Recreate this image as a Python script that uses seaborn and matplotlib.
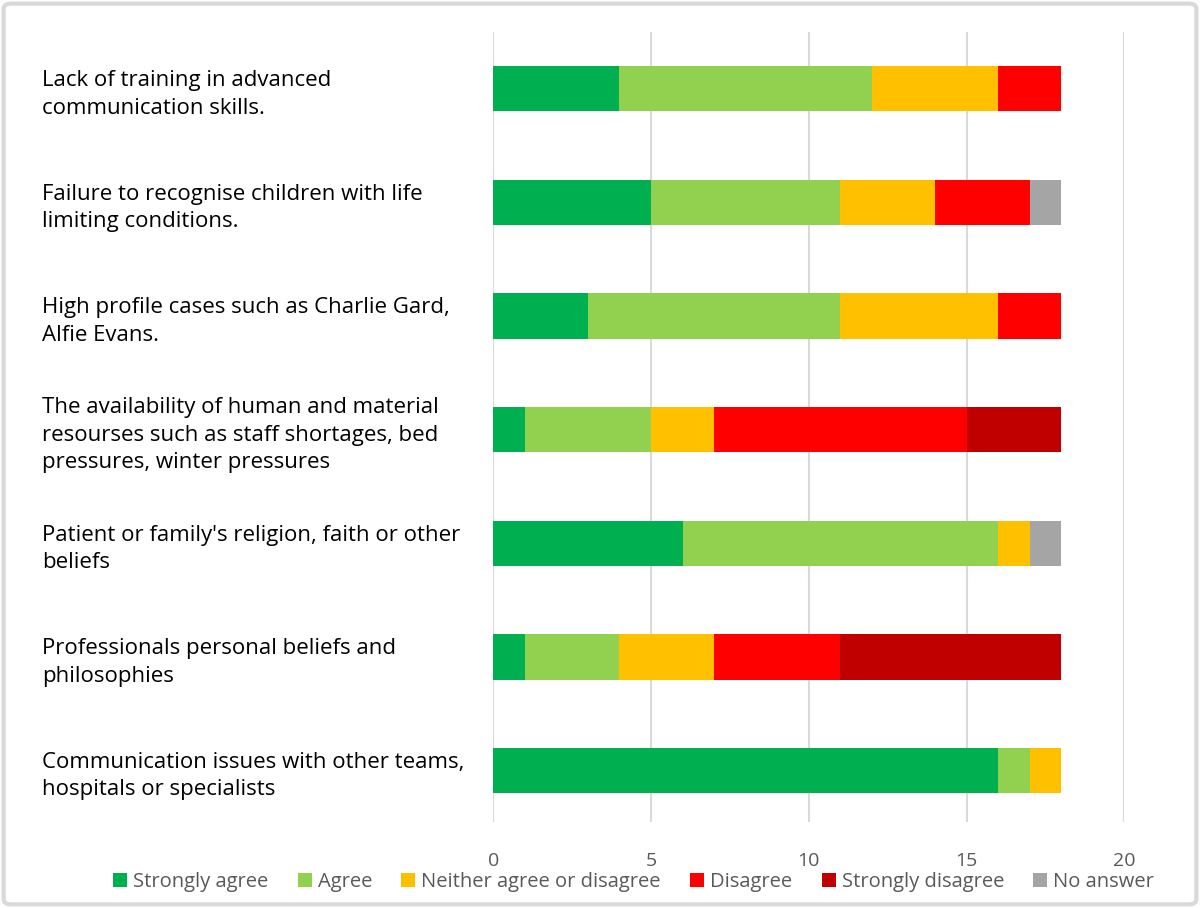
import numpy as np
import pandas as pd
import seaborn as sns
import matplotlib.pyplot as plt
from matplotlib.patches import Patch, FancyBboxPatch

categories = [
    "Lack of training in advanced\ncommunication skills.",
    "Failure to recognise children with life\nlimiting conditions.",
    "High profile cases such as Charlie Gard,\nAlfie Evans.",
    "The availability of human and material\nresourses such as staff shortages, bed\npressures, winter pressures",
    "Patient or family's religion, faith or other\nbeliefs",
    "Professionals personal beliefs and\nphilosophies",
    "Communication issues with other teams,\nhospitals or specialists",
]
strongly_agree = [4, 5, 3, 1, 6, 1, 16]
agree = [8, 6, 8, 4, 10, 3, 1]
neither = [4, 3, 5, 2, 1, 3, 1]
disagree = [2, 3, 2, 8, 0, 4, 0]
strongly_disagree = [0, 0, 0, 3, 0, 7, 0]
no_answer = [0, 1, 0, 0, 1, 0, 0]

series_names = ["Strongly agree", "Agree", "Neither agree or disagree",
                "Disagree", "Strongly disagree", "No answer"]
colors = ["#00B050", "#92D050", "#FFC000", "#FF0000", "#C00000", "#A5A5A5"]

sns.set_style("white")
plt.rcParams["font.family"] = ["Open Sans", "DejaVu Sans"]

values = np.array([strongly_agree, agree, neither, disagree, strongly_disagree, no_answer])
cum = values.cumsum(axis=0)

fig = plt.figure(figsize=(12, 9.08), dpi=100)
ax = fig.add_axes([0.411, 0.095, 0.526, 0.87])

# draw cumulative totals from the last series back to the first so they stack
for i in range(len(series_names) - 1, -1, -1):
    df = pd.DataFrame({"cat": categories, "val": cum[i]})
    sns.barplot(data=df, x="val", y="cat", orient="h", color=colors[i],
                width=0.4, ax=ax, saturation=1, linewidth=0, zorder=3)

ax.set_xlim(0, 20)
ax.set_ylim(6.45, -0.5)
ax.set_xticks([0, 5, 10, 15, 20])
ax.set_xlabel("")
ax.set_ylabel("")
ax.grid(axis="x", color="#D9D9D9", linewidth=1.5, zorder=0)
ax.set_axisbelow(True)
for s in ax.spines.values():
    s.set_visible(False)
ax.tick_params(axis="x", length=0, labelsize=14, labelcolor="#595959", pad=22)
ax.tick_params(axis="y", length=0, labelsize=16, pad=325)
for lbl in ax.get_yticklabels():
    lbl.set_horizontalalignment("left")
    lbl.set_color("#000000")
    lbl.set_linespacing(1.4)

handles = [Patch(facecolor=c, edgecolor="none") for c in colors]
fig.legend(handles, series_names, loc="center", bbox_to_anchor=(0.528, 0.029),
           ncol=6, frameon=False, fontsize=14.5, handlelength=0.7, handleheight=0.7,
           handletextpad=0.3, columnspacing=1.45, labelcolor="#595959")

border = FancyBboxPatch((0.003, 0.004), 0.994, 0.992, boxstyle="round,pad=0,rounding_size=0.006",
                        transform=fig.transFigure, facecolor="none", edgecolor="#D9D9D9",
                        linewidth=3, zorder=-1)
fig.patches.append(border)

fig.savefig("out.png", dpi=100)
